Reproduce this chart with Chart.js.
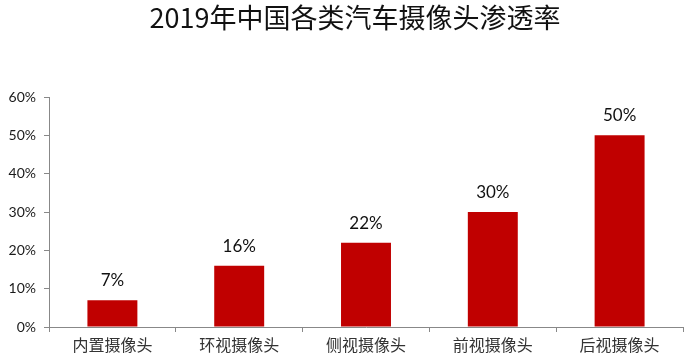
<!DOCTYPE html>
<html>
<head>
<meta charset="utf-8">
<script src="https://cdn.jsdelivr.net/npm/chart.js@4"></script>
<style>
html,body{margin:0;padding:0;background:#fff;}
#wrap{width:688px;height:364px;position:relative;}
</style>
</head>
<body>
<div id="wrap"><canvas id="c" width="688" height="364"></canvas></div>
<script>
const titleText = '2019年中国各类汽车摄像头渗透率';
const categories = ['内置摄像头', '环视摄像头', '侧视摄像头', '前视摄像头', '后视摄像头'];
const penetration = [7, 16, 22, 30, 50];
const yTicks = [0, 10, 20, 30, 40, 50, 60];

const valueLabels = {
  id: 'valueLabels',
  afterDatasetsDraw(chart) {
    const ctx = chart.ctx;
    const meta = chart.getDatasetMeta(0);
    ctx.save();
    ctx.font = '17px Lato, "Open Sans", sans-serif';
    ctx.fillStyle = '#111';
    ctx.textAlign = 'center';
    ctx.textBaseline = 'bottom';
    meta.data.forEach((bar, i) => {
      ctx.fillText(penetration[i] + '%', bar.x, bar.y - 11);
    });
    ctx.restore();
  }
};

const chartTitle = {
  id: 'chartTitle',
  afterDraw(chart) {
    const ctx = chart.ctx;
    ctx.save();
    ctx.font = '27px "Noto Sans CJK SC", sans-serif';
    ctx.fillStyle = '#111';
    ctx.textAlign = 'center';
    ctx.textBaseline = 'middle';
    ctx.fillText(titleText, 355, 18);
    ctx.restore();
  }
};

new Chart(document.getElementById('c'), {
  type: 'bar',
  data: {
    labels: categories,
    datasets: [{
      data: penetration,
      backgroundColor: '#C00000',
      borderWidth: 0,
      barPercentage: 0.394,
      categoryPercentage: 1.0
    }]
  },
  options: {
    responsive: false,
    animation: false,
    devicePixelRatio: 1,
    layout: { padding: { left: 0, right: 5, top: 97, bottom: 0 } },
    plugins: {
      legend: { display: false },
      tooltip: { enabled: false },
      title: { display: false }
    },
    scales: {
      x: {
        grid: { offset: true, drawOnChartArea: false, tickLength: 5, color: '#888' },
        border: { color: '#888', width: 1 },
        ticks: {
          color: '#333',
          font: { family: '"Noto Sans CJK SC", serif', size: 16 },
          padding: 3
        },
        afterFit(s) { s.height = 37; }
      },
      y: {
        min: 0, max: 60,
        afterBuildTicks(s) { s.ticks = yTicks.map(v => ({ value: v })); },
        grid: { drawOnChartArea: false, tickLength: 5, color: '#888' },
        border: { color: '#888', width: 1 },
        ticks: {
          color: '#1a1a1a',
          font: { family: 'Lato, "Open Sans", sans-serif', size: 14 },
          padding: 8,
          callback: v => v + '%'
        },
        afterFit(s) { s.width = 49; }
      }
    }
  },
  plugins: [valueLabels, chartTitle]
});
</script>
</body>
</html>
